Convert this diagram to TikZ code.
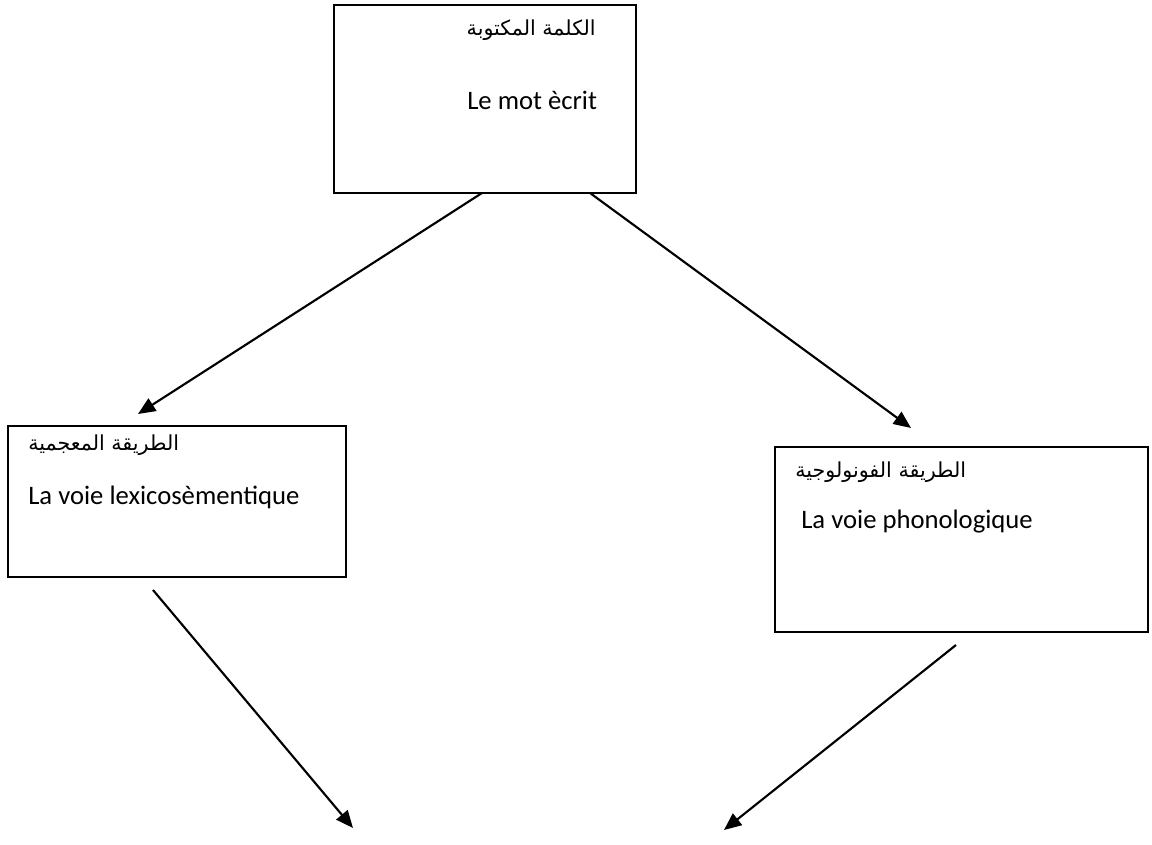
\documentclass[tikz,border=0pt]{standalone}
\usepackage{fontspec}
\setmainfont{Carlito}
\newfontfamily\arabicfont[Script=Arabic]{DejaVu Sans}
\TeXXeTstate=1
\usetikzlibrary{arrows.meta, positioning, calc}

\begin{document}
\begin{tikzpicture}[x=0.75pt, y=-0.75pt,
    wordbox/.style={draw, line width=1.4pt, inner sep=0pt, outer sep=0pt, anchor=north west},
    label/.style={inner sep=0pt, font=\fontsize{20}{24}\selectfont},
    arlabel/.style={inner sep=0pt, font=\fontsize{15.5}{20}\selectfont\arabicfont},
    route/.style={-{Triangle[length=13pt, width=11pt]}, line width=1.6pt}]
    \useasboundingbox (0,0) rectangle (1152,845);
    % boxes
    \node[wordbox, minimum width=226.5pt, minimum height=141pt] (written) at (334,5) {};
    \node[wordbox, minimum width=253.5pt, minimum height=113.25pt] (lexical) at (8,426) {};
    \node[wordbox, minimum width=279.75pt, minimum height=138.75pt] (phono) at (775,447) {};
    % texts
    \node[arlabel, anchor=east] (writtenar) at (596,30) {\beginR الكلمة المكتوبة\endR};
    \node[label, anchor=west] (writtenfr) at (467,100) {Le mot ècrit};
    \node[arlabel, anchor=west] (lexicalar) at (28,445) {\beginR الطريقة المعجمية\endR};
    \node[label, anchor=west] (lexicalfr) at (28,497) {La voie lexicosèmentique};
    \node[arlabel, anchor=west] (phonoar) at (795,472) {\beginR الطريقة الفونولوجية\endR};
    \node[label, anchor=west] (phonofr) at (801,522) {La voie phonologique};
    % free ends
    \coordinate (toleft) at ($(lexical.north west)+(130,-12)$);
    \coordinate (toright) at ($(phono.north west)+(136,-19)$);
    \coordinate (endL) at (353,828);
    \coordinate (endR) at (724,830);
    % arrows
    \draw[route] ($(written.south)+(-3,0)$) -- (toleft);
    \draw[route] ($(written.south)+(105,0)$) -- (toright);
    \draw[route] ($(lexical.south west)+(145,13)$) -- (endL);
    \draw[route] ($(phono.south west)+(181,13)$) -- (endR);
\end{tikzpicture}
\end{document}
